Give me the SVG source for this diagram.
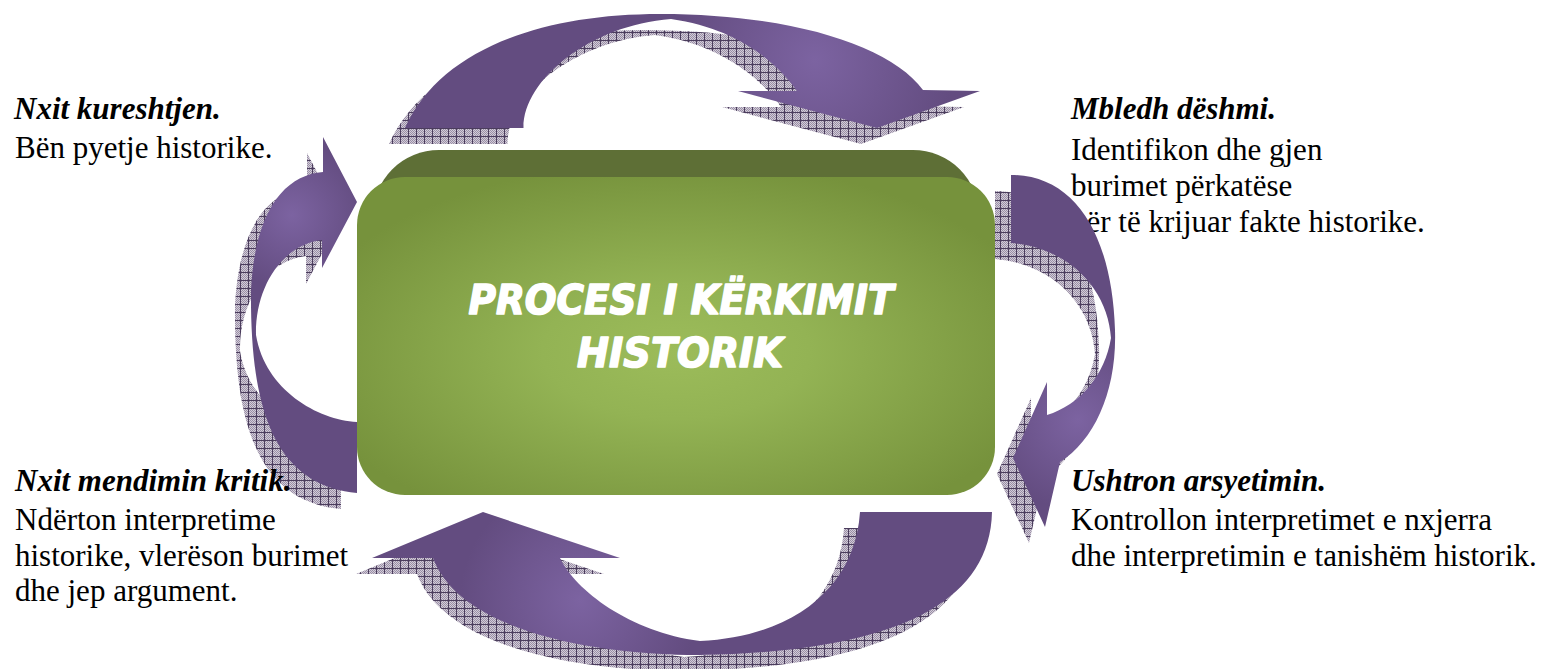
<svg xmlns="http://www.w3.org/2000/svg" xmlns:xlink="http://www.w3.org/1999/xlink" width="1553" height="669" viewBox="0 0 1553 669">
<defs>
<style>
.t{font-family:'Liberation Serif','DejaVu Serif','Noto Serif',serif;font-size:31px;fill:#000}
.h{font-weight:bold;font-style:italic}
.sh{fill:url(#hatch)}
.title{font-family:'DejaVu Sans','Liberation Sans',sans-serif;font-weight:bold;font-style:italic;font-size:40px;fill:#fff;stroke:#fff;stroke-width:1.6;stroke-linejoin:round}
</style>
<pattern id="dith" width="2" height="2" patternUnits="userSpaceOnUse">
<rect width="2" height="2" fill="#d2ccd8"/>
<rect width="1" height="1" fill="#9a8fa6"/>
<rect x="1" y="1" width="1" height="1" fill="#9a8fa6"/>
</pattern>
<pattern id="hatch" width="8" height="8" patternUnits="userSpaceOnUse">
<rect width="8" height="8" fill="url(#dith)"/>
<path d="M0 0.5H8M0.5 0V8" stroke="#4b3d5d" stroke-width="1"/>
</pattern>
<radialGradient id="gTop" gradientUnits="userSpaceOnUse" cx="815" cy="60" r="140">
<stop offset="0" stop-color="#7c63a1"/><stop offset="1" stop-color="#634c80"/>
</radialGradient>
<radialGradient id="gRight" gradientUnits="userSpaceOnUse" cx="1078" cy="420" r="90">
<stop offset="0" stop-color="#7c63a1"/><stop offset="1" stop-color="#634c80"/>
</radialGradient>
<radialGradient id="gBottom" gradientUnits="userSpaceOnUse" cx="580" cy="600" r="120">
<stop offset="0" stop-color="#7c63a1"/><stop offset="1" stop-color="#634c80"/>
</radialGradient>
<radialGradient id="gLeft" gradientUnits="userSpaceOnUse" cx="292" cy="215" r="75">
<stop offset="0" stop-color="#7c63a1"/><stop offset="1" stop-color="#634c80"/>
</radialGradient>
<radialGradient id="gBox" cx="0.5" cy="0.55" r="0.6">
<stop offset="0" stop-color="#9cbc5a"/><stop offset="0.35" stop-color="#93b354"/><stop offset="1" stop-color="#76923c"/>
</radialGradient>
<path id="aTop" d="M405,128 C440,50 540,14 660,14 C790,14 890,45 923,90 L980,91 L877,128 L738,91 L797,91 C775,60 735,28 671,19 C590,25 523,80 523.5,128 Z"/>
<path id="aRight" d="M1011,175 C1075,175 1112,235 1115,330 C1117,390 1095,440 1060,462 L1045,527 L1013,458 L1047,382 L1047,415 C1080,405 1105,375 1111,338 C1108,290 1070,248 1011,243 Z"/>
<path id="aBottom" d="M992,512 C990,610 880,652 700,655 C590,655 460,630 433,558 L372,558 L483,512 L620,558 L560,558 C575,590 630,632 700,641 C790,637 855,590 860,512 Z"/>
<path id="aLeft" d="M357,493 L357,422 C318,420 265,390 256,335 C255,290 280,245 322,240 L322,268 L357,202 L323,137 L323,172 C285,175 255,210 251,290 C250,400 270,485 357,493 Z"/>
</defs>
<rect width="1553" height="669" fill="#fff"/>

<g id="node-mbledh">
<text class="t h" x="1071" y="119">Mbledh dëshmi.</text>
<text class="t" x="1071" y="160">Identifikon dhe gjen</text>
<text class="t" x="1071" y="196">burimet përkatëse</text>
<text class="t" x="1071" y="232">për të krijuar fakte historike.</text>
</g>

<g id="connectors">
<g id="shadows" transform="translate(-16,16)">
<use xlink:href="#aTop" class="sh"/>
<use xlink:href="#aRight" class="sh"/>
<use xlink:href="#aBottom" class="sh"/>
<use xlink:href="#aLeft" class="sh"/>
</g>
<use id="arrow-top" xlink:href="#aTop" fill="url(#gTop)"/>
<use id="arrow-right" xlink:href="#aRight" fill="url(#gRight)"/>
<use id="arrow-bottom" xlink:href="#aBottom" fill="url(#gBottom)"/>
<use id="arrow-left" xlink:href="#aLeft" fill="url(#gLeft)"/>
</g>

<g id="node-center">
<rect x="373" y="150" width="606" height="300" rx="66" fill="#5e6f36"/>
<rect x="357" y="177" width="638" height="318" rx="48" fill="url(#gBox)"/>
<text class="title" x="681" y="314" text-anchor="middle" textLength="425" lengthAdjust="spacingAndGlyphs">PROCESI I KËRKIMIT</text>
<text class="title" x="680" y="367" text-anchor="middle" textLength="206" lengthAdjust="spacingAndGlyphs">HISTORIK</text>
</g>

<g id="node-kureshtje">
<text class="t h" x="14" y="119">Nxit kureshtjen.</text>
<text class="t" x="15" y="158">Bën pyetje historike.</text>
</g>

<g id="node-kritik">
<text class="t h" x="15" y="491">Nxit mendimin kritik.</text>
<text class="t" x="15" y="530">Ndërton interpretime</text>
<text class="t" x="15" y="566">historike, vlerëson burimet</text>
<text class="t" x="15" y="601">dhe jep argument.</text>
</g>

<g id="node-arsyetim">
<text class="t h" x="1071" y="491">Ushtron arsyetimin.</text>
<text class="t" x="1071" y="530">Kontrollon interpretimet e nxjerra</text>
<text class="t" x="1071" y="566">dhe interpretimin e tanishëm historik.</text>
</g>
</svg>
